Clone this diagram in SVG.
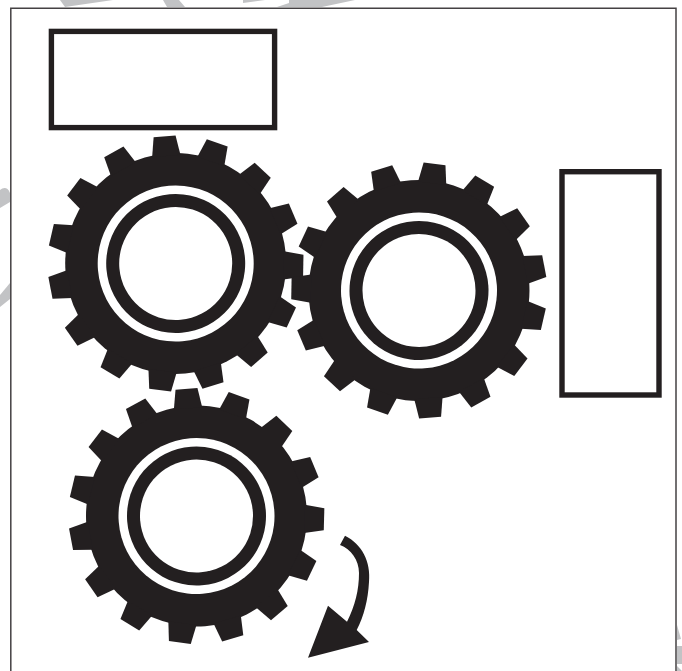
<svg xmlns="http://www.w3.org/2000/svg" xmlns:xlink="http://www.w3.org/1999/xlink" width="682" height="671" viewBox="0 0 682 671">
<style>
.ink{fill:#231f20}
.box{fill:#fff;stroke:#231f20;stroke-width:5.4}
.wm{fill:#c2c3c5}
.hole{fill:#fff}
</style>
<defs>
<polygon id="t" points="-11,-127.6 11,-127.6 14.2,-108 -14.2,-108"/>
<g id="gear">
<circle class="ink" r="110.5"/>
<g class="ink">
<use href="#t"/><use href="#t" transform="rotate(24)"/><use href="#t" transform="rotate(48)"/><use href="#t" transform="rotate(72)"/><use href="#t" transform="rotate(96)"/><use href="#t" transform="rotate(120)"/><use href="#t" transform="rotate(144)"/><use href="#t" transform="rotate(168)"/><use href="#t" transform="rotate(192)"/><use href="#t" transform="rotate(216)"/><use href="#t" transform="rotate(240)"/><use href="#t" transform="rotate(264)"/><use href="#t" transform="rotate(288)"/><use href="#t" transform="rotate(312)"/><use href="#t" transform="rotate(336)"/>
</g>
<circle class="hole" r="78"/>
<circle class="ink" r="69.5"/>
<circle class="hole" r="56.5"/>
</g>
</defs>
<rect width="682" height="671" fill="#fff"/>
<g id="watermark">
<polygon class="wm" points="60,0 113,0 65,7"/>
<polygon class="wm" points="163,0 179,0 185,7 167,7"/>
<polygon class="wm" points="243,0 265,0 243,3"/>
<polygon class="wm" points="277,7 289,3 289,0 355,0 322,7"/>
<path class="wm" d="M0,190C3,188 7,186 10,193V202L0,208Z"/>
<polygon class="wm" points="10,283 0,295 0,307 10,299"/>
<polygon class="wm" points="677,625 681,639 677,640"/>
<polygon class="wm" points="677,646 682,646 682,664 677,664"/>
<polygon class="wm" points="677,666 682,671 677,671"/>
</g>
<path id="frame" d="M10.8,676V8.2H676V676" fill="#fff" stroke="#444143" stroke-width="1.5"/>
<g id="box-top"><rect class="box" x="51.4" y="31.4" width="223.2" height="96.2"/></g>
<g id="box-right"><rect class="box" x="562" y="171.7" width="97" height="223.3"/></g>
<g id="gear-1"><use href="#gear" transform="translate(175.7,263.5) rotate(-5)"/></g>
<g id="gear-2"><use href="#gear" transform="translate(419,290.5) rotate(7)"/></g>
<g id="gear-3"><use href="#gear" transform="translate(196.5,516) rotate(-4.5)"/></g>
<g id="connectors">
<path id="arrow" class="ink" d="M345,535.7C362,544 371,562 369,582C368,600 364,616 356.7,630L369,642L308,657.7L328,605.7L347,621.7C355,606 359,590 359,573C359,560 351,549 340,545Z"/>
</g>
</svg>
